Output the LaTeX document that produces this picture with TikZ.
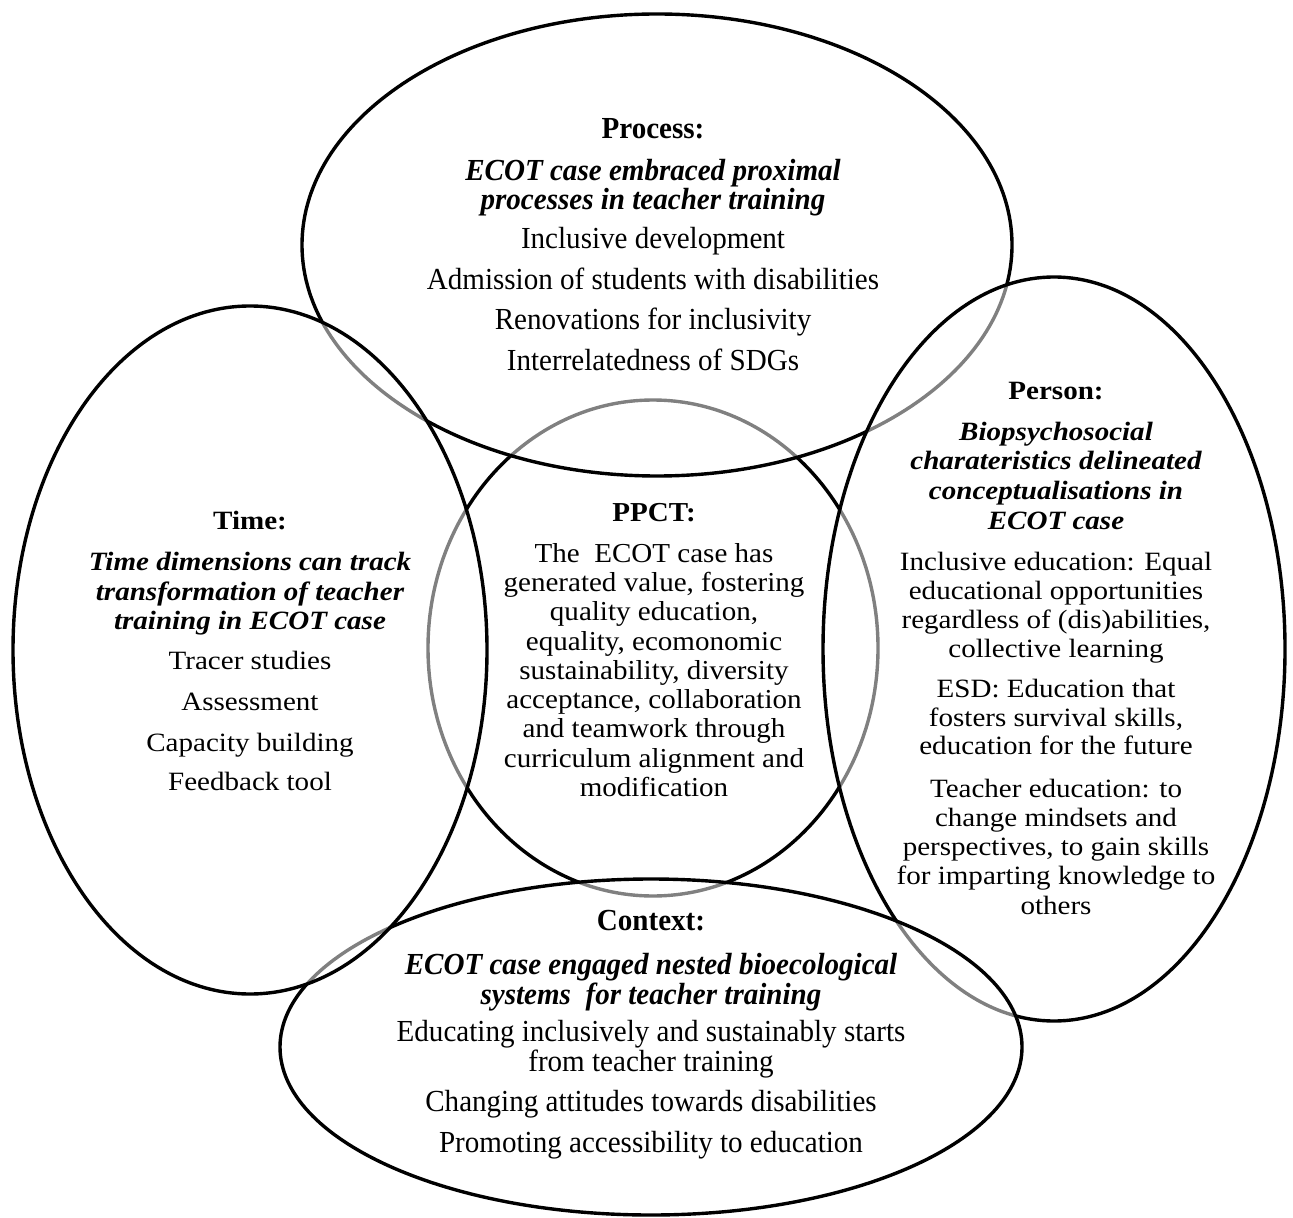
\documentclass[tikz,border=0pt]{standalone}
\usepackage{fontspec}
\setmainfont{Liberation Serif}
\newfontfamily\condserif[FakeStretch=0.95]{Liberation Serif}
\newfontfamily\wideserif[FakeStretch=1.10]{Liberation Serif}
\newfontfamily\midserif[FakeStretch=1.06]{Liberation Serif}
\newcommand\procfont{\condserif\fontsize{15.3}{18}\selectfont}
\newcommand\timefont{\wideserif\fontsize{13.2}{16}\selectfont}
\newcommand\ppctfont{\midserif\fontsize{13.7}{16}\selectfont}

\tikzset{
  hub/.style={line width=1.7pt, draw=black},
  ring/.style={line width=1.7pt, draw=black, fill=white, fill opacity=0.5},
  txt/.style={anchor=base, inner sep=0pt, text=black},
  head/.style={txt, font=#1\bfseries},
  sub/.style={txt, font=#1\bfseries\itshape},
  item/.style={txt, font=#1},
}

\begin{document}
\begin{tikzpicture}[x=0.5pt, y=-0.5pt]
\useasboundingbox (0,0) rectangle (1293,1218);

% central PPCT circle, then the four translucent ellipses laid over it
\draw[hub]  (653,648)  ellipse [x radius=225, y radius=248];
\draw[ring] (657,245)  ellipse [x radius=355, y radius=231];
\draw[ring] (1054,649) ellipse [x radius=231, y radius=372];
\draw[ring] (651,1047) ellipse [x radius=371, y radius=168];
\draw[ring] (250,650)  ellipse [x radius=237, y radius=344];

% Process
\node[head=\procfont] (proc) at (653,139) {Process:};
\node[sub=\procfont]  (proc1) at (653,181) {ECOT case embraced proximal};
\node[sub=\procfont]  (proc2) at (653,210) {processes in teacher training};
\node[item=\procfont] (proc3) at (653,249) {Inclusive development};
\node[item=\procfont] (proc4) at (653,290) {Admission of students with disabilities};
\node[item=\procfont] (proc5) at (653,330) {Renovations for inclusivity};
\node[item=\procfont] (proc6) at (653,371) {Interrelatedness of SDGs};

% Time
\node[head=\timefont] (time) at (250,529) {Time:};
\node[sub=\timefont]  (time1) at (250,570) {Time dimensions can track};
\node[sub=\timefont]  (time2) at (250,600) {transformation of teacher};
\node[sub=\timefont]  (time3) at (250,629) {training in ECOT case};
\node[item=\timefont] (time4) at (250,669) {Tracer studies};
\node[item=\timefont] (time5) at (250,710) {Assessment};
\node[item=\timefont] (time6) at (250,751) {Capacity building};
\node[item=\timefont] (time7) at (250,790) {Feedback tool};

% Person
\node[head=\timefont] (pers) at (1056,400) {Person:};
\node[sub=\timefont]  (pers1) at (1056,441) {Biopsychosocial};
\node[sub=\timefont]  (pers2) at (1056,470) {charateristics delineated};
\node[sub=\timefont]  (pers3) at (1056,500) {conceptualisations in};
\node[sub=\timefont]  (pers4) at (1056,529) {ECOT case};
\node[item=\timefont] (pers5) at (1056,570) {Inclusive education: Equal};
\node[item=\timefont] (pers6) at (1056,599) {educational opportunities};
\node[item=\timefont] (pers7) at (1056,628) {regardless of (dis)abilities,};
\node[item=\timefont] (pers8) at (1056,657) {collective learning};
\node[item=\timefont] (pers9) at (1056,697) {ESD: Education that};
\node[item=\timefont] (pers10) at (1056,726) {fosters survival skills,};
\node[item=\timefont] (pers11) at (1056,754) {education for the future};
\node[item=\timefont] (pers12) at (1056,797) {Teacher education: to};
\node[item=\timefont] (pers13) at (1056,826) {change mindsets and};
\node[item=\timefont] (pers14) at (1056,855) {perspectives, to gain skills};
\node[item=\timefont] (pers15) at (1056,884) {for imparting knowledge to};
\node[item=\timefont] (pers16) at (1056,914) {others};

% PPCT
\node[head=\ppctfont] (ppct) at (654,521) {PPCT:};
\node[item=\ppctfont] (ppct1) at (654,562) {The\ \ ECOT case has};
\node[item=\ppctfont] (ppct2) at (654,591) {generated value, fostering};
\node[item=\ppctfont] (ppct3) at (654,620) {quality education,};
\node[item=\ppctfont] (ppct4) at (654,650) {equality, ecomonomic};
\node[item=\ppctfont] (ppct5) at (654,679) {sustainability, diversity};
\node[item=\ppctfont] (ppct6) at (654,708) {acceptance, collaboration};
\node[item=\ppctfont] (ppct7) at (654,737) {and teamwork through};
\node[item=\ppctfont] (ppct8) at (654,767) {curriculum alignment and};
\node[item=\ppctfont] (ppct9) at (654,796) {modification};

% Context
\node[head=\procfont] (ctx) at (651,930) {Context:};
\node[sub=\procfont]  (ctx1) at (651,974) {ECOT case engaged nested bioecological};
\node[sub=\procfont]  (ctx2) at (651,1004) {systems\ \ for teacher training};
\node[item=\procfont] (ctx3) at (651,1041) {Educating inclusively and sustainably starts};
\node[item=\procfont] (ctx4) at (651,1071) {from teacher training};
\node[item=\procfont] (ctx5) at (651,1111) {Changing attitudes towards disabilities};
\node[item=\procfont] (ctx6) at (651,1152) {Promoting accessibility to education};
\end{tikzpicture}
\end{document}
